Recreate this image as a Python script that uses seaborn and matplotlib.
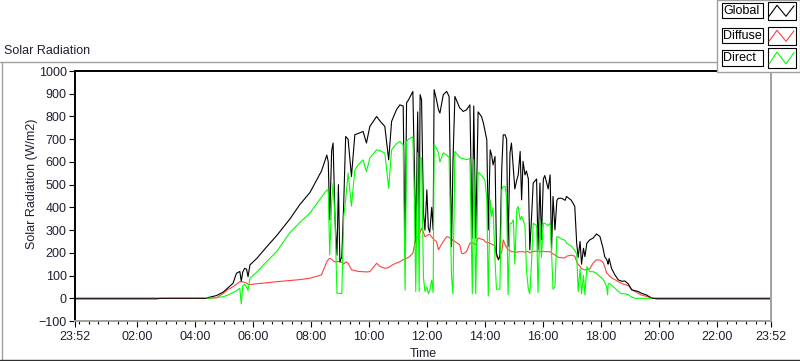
import numpy as np
import pandas as pd
import matplotlib
matplotlib.use("Agg")
import matplotlib.pyplot as plt
from matplotlib.lines import Line2D
from matplotlib.patches import Rectangle
from matplotlib.ticker import FixedLocator, FixedFormatter
import seaborn as sns

# --------------------------------
# Data
# --------------------------------
TIME = [
    "23:52", "02:40", "02:50", "04:25", "04:27", "04:45", "04:59", "05:08", "05:19", "05:26",
    "05:33", "05:36", "05:39", "05:43", "05:47", "05:50", "05:54", "06:08", "06:28", "06:49",
    "07:17", "07:37", "07:58", "08:22", "08:33", "08:36", "08:39", "08:43", "08:46", "08:50",
    "08:54", "08:57", "09:00", "09:04", "09:08", "09:12", "09:17", "09:24", "09:31", "09:38",
    "09:48", "09:55", "10:02", "10:16", "10:23", "10:33", "10:41", "10:47", "10:57", "11:04",
    "11:11", "11:15", "11:18", "11:22", "11:31", "11:34", "11:37", "11:41", "11:44", "11:46",
    "11:49", "11:53", "11:56", "12:00", "12:03", "12:06", "12:10", "12:13", "12:15", "12:20",
    "12:24", "12:27", "12:34", "12:41", "12:46", "12:51", "12:54", "12:58", "13:08", "13:12",
    "13:15", "13:22", "13:29", "13:34", "13:37", "13:41", "13:46", "13:53", "13:57", "14:00",
    "14:04", "14:07", "14:11", "14:14", "14:17", "14:21", "14:24", "14:28", "14:31", "14:35",
    "14:38", "14:42", "14:45", "14:48", "14:52", "14:55", "14:59", "15:02", "15:06", "15:09",
    "15:13", "15:16", "15:19", "15:23", "15:26", "15:30", "15:33", "15:37", "15:40", "15:47",
    "15:50", "15:54", "15:57", "16:01", "16:04", "16:11", "16:15", "16:18", "16:21", "16:25",
    "16:29", "16:32", "16:39", "16:46", "16:49", "16:59", "17:06", "17:10", "17:13", "17:17",
    "17:20", "17:24", "17:27", "17:31", "17:37", "17:44", "17:51", "17:58", "18:04", "18:08",
    "18:12", "18:14", "18:15", "18:17", "18:22", "18:29", "18:36", "18:43", "18:50", "18:57",
    "19:04", "19:11", "19:17", "19:24", "19:35", "19:45", "19:55", "23:52",
]

GLOBAL = [
    0, 0, 0, 0, 3, 12, 28, 45, 66, 110,
    118, 75, 115, 132, 128, 95, 147, 175, 225, 275,
    350, 412, 465, 560, 630, 600, 345, 650, 683, 345,
    190, 500, 160, 183, 420, 712, 700, 536, 720, 725,
    734, 683, 756, 800, 780, 756, 609, 778, 829, 851,
    846, 220, 860, 873, 910, 600, 243, 820, 250, 896,
    873, 375, 300, 477, 310, 290, 400, 300, 918, 873,
    830, 815, 896, 910, 888, 227, 600, 888, 837, 830,
    822, 829, 851, 265, 846, 265, 820, 800, 771, 740,
    697, 301, 653, 630, 587, 624, 198, 169, 183, 575,
    719, 719, 700, 227, 640, 683, 567, 481, 520, 543,
    646, 433, 602, 543, 560, 525, 213, 374, 507, 525,
    213, 507, 257, 525, 540, 481, 543, 213, 448, 301,
    431, 440, 440, 431, 448, 431, 404, 242, 180, 250,
    150, 220, 183, 242, 257, 265, 283, 272, 225, 183,
    170, 160, 150, 175, 132, 103, 81, 75, 76, 62,
    37, 33, 30, 22, 14, 0, 0, 0,
]

DIFFUSE = [
    -4, -4, 0, 0, 0, 2, 22, 38, 51, 62,
    73, 72, 72, 70, 66, 62, 60, 64, 68, 73,
    78, 82, 88, 103, 161, 170, 176, 172, 165, 160,
    162, 160, 161, 158, 150, 160, 155, 125, 122, 118,
    117, 116, 117, 154, 140, 132, 135, 145, 155, 161,
    170, 172, 176, 180, 198, 230, 271, 268, 275, 290,
    308, 290, 271, 275, 280, 280, 270, 262, 257, 250,
    213, 225, 250, 271, 268, 260, 255, 250, 235, 198,
    196, 205, 242, 245, 240, 235, 265, 260, 258, 250,
    245, 245, 242, 238, 235, 230, 183, 176, 185, 205,
    257, 235, 222, 215, 210, 205, 205, 203, 202, 205,
    205, 205, 205, 203, 205, 205, 200, 205, 205, 208,
    205, 205, 206, 207, 205, 205, 205, 200, 195, 190,
    185, 180, 178, 178, 185, 190, 185, 161, 150, 140,
    130, 127, 125, 125, 130, 155, 169, 168, 160, 140,
    110, 108, 105, 100, 90, 82, 73, 65, 60, 56,
    37, 30, 22, 14, 8, 3, -4, -4,
]

DIRECT = [
    np.nan, np.nan, np.nan, 0, 0, 3, 7, 14, 25, 33,
    44, -25, 55, 62, 50, 35, 88, 115, 160, 205,
    290, 333, 375, 445, 477, 470, 191, 420, 507, 345,
    22, 22, 22, 20, 360, 433, 551, 405, 565, 587,
    609, 557, 617, 653, 650, 639, 484, 653, 680, 690,
    675, 36, 690, 700, 710, 450, 30, 640, 30, 620,
    617, 90, 30, 50, 20, 35, 80, 25, 675, 660,
    640, 600, 640, 630, 620, 95, 20, 646, 620, 615,
    615, 610, 615, 20, 610, 20, 555, 540, 530, 520,
    440, 10, 433, 360, 400, 169, 40, 40, 40, 477,
    492, 492, 440, 15, 330, 330, 345, 150, 390, 404,
    345, 360, 345, 320, 125, 40, 20, 180, 330, 320,
    25, 345, 180, 330, 330, 320, 330, 200, 40, 50,
    271, 270, 260, 255, 242, 230, 210, 195, 30, 130,
    20, 100, 15, 139, 117, 117, 110, 95, 85, 70,
    51, 15, 60, 66, 58, 45, 30, 20, 20, 15,
    5, 0, 0, 0, 0, 0, np.nan, np.nan,
]

SERIES = ["Global", "Diffuse", "Direct"]
COLORS = {"Global": "#000000", "Diffuse": "#ff4040", "Direct": "#00ff00"}
X_TICK_LABELS = ["23:52", "02:00", "04:00", "06:00", "08:00", "10:00", "12:00",
                 "14:00", "16:00", "18:00", "20:00", "22:00", "23:52"]
Y_TICKS = [-100, 0, 100, 200, 300, 400, 500, 600, 700, 800, 900, 1000]

TEXT_COLOR = "#1e1e32"
FONT_SIZE = 9
W, H = 800, 361


def to_hours(labels):
    hours = []
    for s in labels:
        h, m = s.split(":")
        hours.append(int(h) + int(m) / 60.0)
    # the first label/value belongs to the previous day
    hours[0] -= 24.0
    return hours


def px(x, y):
    # pixel position -> figure fraction
    return x / W, 1 - y / H


def main():
    sns.set_style("white")
    plt.rcParams["font.family"] = ["Liberation Sans", "DejaVu Sans"]
    plt.rcParams["font.size"] = FONT_SIZE

    t = to_hours(TIME)
    df = pd.DataFrame({"hours": t, "Global": GLOBAL,
                       "Diffuse": DIFFUSE, "Direct": DIRECT})
    long_df = df.melt(id_vars="hours", var_name="series", value_name="wm2")

    fig = plt.figure(figsize=(W / 100, H / 100), dpi=100)
    ax = fig.add_axes([75 / W, 1 - 321 / H, (771 - 75) / W, (321 - 71) / H])

    sns.lineplot(data=long_df, x="hours", y="wm2", hue="series",
                 hue_order=["Diffuse", "Global", "Direct"], palette=COLORS,
                 estimator=None, sort=False, legend=False,
                 linewidth=0.8, ax=ax)

    xmin, xmax = to_hours(["23:52"])[0], 23 + 52 / 60
    ax.set_xlim(xmin, xmax)
    ax.set_ylim(-100, 1000)

    major = [xmin] + list(range(2, 23, 2)) + [xmax]
    ax.xaxis.set_major_locator(FixedLocator(major))
    ax.xaxis.set_major_formatter(FixedFormatter(X_TICK_LABELS))
    ax.xaxis.set_minor_locator(FixedLocator(np.arange(0, xmax, 1 / 3)))
    ax.yaxis.set_major_locator(FixedLocator(Y_TICKS))

    ax.tick_params(axis="both", which="major", direction="out", length=4,
                   width=0.8, color="black", labelcolor=TEXT_COLOR,
                   labelsize=FONT_SIZE, pad=2)
    ax.tick_params(axis="x", which="minor", direction="out", length=2.5,
                   width=0.8, color="black")
    ax.tick_params(axis="x", which="major", pad=3)
    ax.xaxis.set_ticks_position("bottom")
    ax.yaxis.set_ticks_position("left")

    for side in ["top", "left"]:
        ax.spines[side].set_color("black")
        ax.spines[side].set_linewidth(1.4)
    for side in ["bottom", "right"]:
        ax.spines[side].set_color("#a0a0a0")
        ax.spines[side].set_linewidth(1.4)

    ax.set_xlabel("Time", color=TEXT_COLOR, fontsize=FONT_SIZE)
    ax.xaxis.label.set_va("center")
    ax.xaxis.set_label_coords(0.5, (321 - 354) / 250)
    ax.set_ylabel("Solar Radiation (W/m2)", color=TEXT_COLOR, fontsize=FONT_SIZE)
    ax.yaxis.label.set_va("center")
    ax.yaxis.set_label_coords((32 - 75) / 696, (321 - 184) / 250)

    # panel caption and outer frame
    fig.text(*px(4, 51), "Solar Radiation", color=TEXT_COLOR, fontsize=FONT_SIZE,
             va="center", ha="left")
    frame = dict(transform=fig.transFigure, lw=1.0)
    fig.add_artist(Line2D(*zip(px(0, 61.5), px(720, 61.5)), color="#a0a0a0", **frame))
    fig.add_artist(Line2D(*zip(px(1.5, 61.5), px(1.5, 359)), color="#a0a0a0", **frame))
    fig.add_artist(Line2D(*zip(px(0, 359.5), px(800, 359.5)), color="#303030", **frame))

    # LabVIEW style legend panel
    x0, y0 = px(717, 72)
    fig.add_artist(Rectangle((x0, y0), 1 - x0, 1 - y0, transform=fig.transFigure,
                             facecolor="white", edgecolor="#a0a0a0", lw=1.0,
                             zorder=5))
    rows = [(3.3, 18.3), (28.3, 43.3), (50, 66)]
    for name, (top, bot) in zip(SERIES, rows):
        bx, by = px(721.5, bot)
        fig.add_artist(Rectangle((bx, by), 41 / W, (bot - top) / H,
                                 transform=fig.transFigure, facecolor="white",
                                 edgecolor="black", lw=0.8, zorder=6))
        fig.text(*px(723.5, (top + bot) / 2), name, color="black", fontsize=FONT_SIZE,
                 va="center", ha="left", zorder=7)
        sx, sy = px(767.5, bot + 1.5)
        fig.add_artist(Rectangle((sx, sy), 28.5 / W, (bot - top + 3) / H,
                                 transform=fig.transFigure, facecolor="white",
                                 edgecolor="black", lw=0.8, zorder=6))
        zig_x = [769, 777, 786, 794]
        zig_y = [bot - 2, top + 2, bot - 2, top + 2.5]
        pts = [px(a, b) for a, b in zip(zig_x, zig_y)]
        fig.add_artist(Line2D([p[0] for p in pts], [p[1] for p in pts],
                              transform=fig.transFigure, color=COLORS[name],
                              lw=0.8, zorder=7))

    fig.savefig("out.png", dpi=100)
    plt.close(fig)


if __name__ == "__main__":
    main()
